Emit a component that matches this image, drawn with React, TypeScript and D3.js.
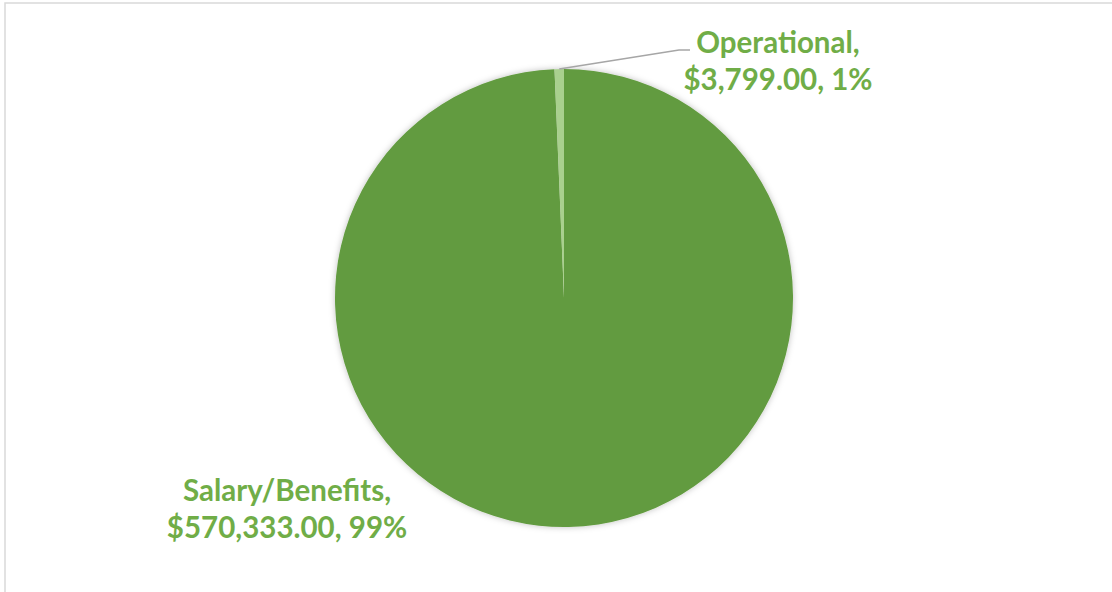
import { useEffect, useRef } from "react";
import * as d3 from "d3";

const categories = ["Salary/Benefits", "Operational"];
const amounts = [570333.0, 3799.0];
const percentLabels = ["99%", "1%"];
const sliceColors = ["#629b3f", "#a9d08e"];

const W = 1112;
const H = 592;

export default function App() {
  const svgRef = useRef<SVGSVGElement>(null);

  useEffect(() => {
    if (!svgRef.current) return;
    const svg = d3.select(svgRef.current);
    svg.selectAll("*").remove();

    // chart frame
    svg
      .append("rect")
      .attr("x", 5)
      .attr("y", 3)
      .attr("width", W + 20)
      .attr("height", H + 20)
      .attr("fill", "#fff")
      .attr("stroke", "#d9d9d9")
      .attr("stroke-width", 1.5);

    const defs = svg.append("defs");
    const f = defs
      .append("filter")
      .attr("id", "shadow")
      .attr("x", "-10%")
      .attr("y", "-10%")
      .attr("width", "120%")
      .attr("height", "120%");
    f.append("feDropShadow")
      .attr("dx", 0)
      .attr("dy", 0)
      .attr("stdDeviation", 3)
      .attr("flood-color", "#000")
      .attr("flood-opacity", 0.25);

    const cx = 564;
    const cy = 298;
    const r = 229;

    const data = categories.map((c, i) => ({
      name: c,
      value: amounts[i],
      pct: percentLabels[i],
      color: sliceColors[i],
    }));

    const pie = d3
      .pie<(typeof data)[number]>()
      .value((d) => d.value)
      .sort(null);
    const arc = d3
      .arc<d3.PieArcDatum<(typeof data)[number]>>()
      .innerRadius(0)
      .outerRadius(r);

    const arcs = pie(data);
    const g = svg.append("g").attr("transform", `translate(${cx},${cy})`);
    g.append("g")
      .attr("filter", "url(#shadow)")
      .selectAll("path")
      .data(arcs)
      .enter()
      .append("path")
      .attr("d", arc)
      .attr("fill", (d) => d.data.color);

    const fmt = d3.format("$,.2f");
    const labelStyle = (t: d3.Selection<SVGTextElement, unknown, null, undefined>) =>
      t
        .attr("text-anchor", "middle")
        .attr("fill", "#70ad47")
        .attr("font-family", "Lato, 'Open Sans', sans-serif")
        .attr("font-weight", "bold")
        .attr("font-size", 29.5);

    // Operational label with leader line
    const op = arcs[1];
    const mid = (op.startAngle + op.endAngle) / 2;
    const p0 = [cx + Math.sin(mid) * r, cy - Math.cos(mid) * r];
    svg
      .append("polyline")
      .attr("points", `${p0[0]},${p0[1]} 679,50 690,50`)
      .attr("fill", "none")
      .attr("stroke", "#a6a6a6")
      .attr("stroke-width", 1.5);

    const t1 = svg.append("text").call(labelStyle);
    t1.append("tspan").attr("x", 778).attr("y", 53).text(`${op.data.name},`);
    t1.append("tspan")
      .attr("x", 778)
      .attr("y", 90)
      .text(`${fmt(op.data.value)}, ${op.data.pct}`);

    const sal = arcs[0];
    const t2 = svg.append("text").call(labelStyle);
    t2.append("tspan").attr("x", 287).attr("y", 501).text(`${sal.data.name},`);
    t2.append("tspan")
      .attr("x", 287)
      .attr("y", 538)
      .text(`${fmt(sal.data.value)}, ${sal.data.pct}`);
  }, []);

  return (
    <svg
      ref={svgRef}
      width={W}
      height={H}
      style={{ position: "fixed", left: 0, top: 0, display: "block" }}
    />
  );
}
